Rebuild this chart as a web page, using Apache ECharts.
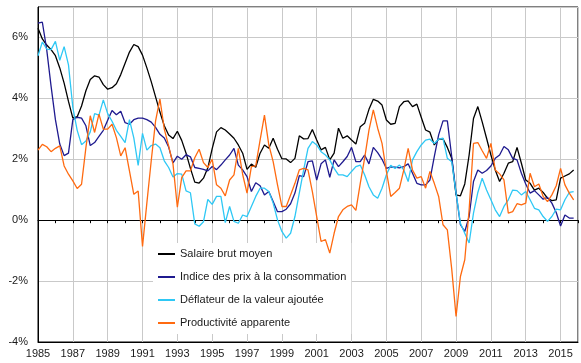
<!DOCTYPE html>
<html>
<head>
<meta charset="utf-8">
<script src="https://cdn.jsdelivr.net/npm/echarts@6/dist/echarts.min.js"></script>
<style>
  html, body { margin: 0; padding: 0; background: #fff; }
  #chart { width: 581px; height: 363px; }
</style>
</head>
<body>
<div id="chart"></div>
<script>
// Glissements annuels trimestriels (%), du 1er trimestre 1985 au 4e trimestre 2015
const firstYear = 1985;

const seriesNames = [
  'Salaire brut moyen',
  'Indice des prix à la consommation',
  'Déflateur de la valeur ajoutée',
  'Productivité apparente'
];

const salaire = [
  6.30, 5.95, 5.75, 5.60, 5.40, 5.00, 4.50, 3.90, 3.35, 3.40,
  3.75, 4.25, 4.62, 4.74, 4.70, 4.45, 4.30, 4.35, 4.48, 4.78,
  5.15, 5.52, 5.77, 5.70, 5.42, 5.00, 4.55, 4.05, 3.55, 3.10,
  2.80, 2.68, 2.92, 2.62, 2.20, 1.70, 1.25, 1.22, 1.38, 1.72,
  2.35, 2.90, 3.04, 2.96, 2.83, 2.69, 2.47, 2.20, 1.67, 1.84,
  1.74, 2.20, 2.47, 2.36, 2.69, 2.33, 2.02, 2.01, 1.89, 2.03,
  2.77, 2.67, 2.68, 2.98, 2.63, 2.31, 2.39, 1.98, 2.20, 3.02,
  2.69, 2.77, 2.63, 2.50, 3.07, 3.18, 3.64, 3.97, 3.91, 3.78,
  3.29, 3.15, 3.18, 3.73, 3.89, 3.92, 3.73, 3.81, 3.38, 2.96,
  2.89, 2.47, 2.66, 2.67, 2.39, 2.03, 0.83, 0.80, 1.19, 2.14,
  3.34, 3.73, 3.23, 2.69, 2.14, 1.65, 1.27, 1.54, 1.87, 1.92,
  2.39, 1.87, 1.32, 1.21, 0.99, 1.05, 0.91, 0.72, 0.64, 0.67,
  1.38, 1.45, 1.52, 1.65
];

const prixConso = [
  6.47, 6.50, 5.60, 4.40, 3.30, 2.50, 2.12, 2.20, 3.30, 3.38,
  3.35, 3.10, 2.45, 2.55, 2.75, 2.95, 3.28, 3.60, 3.46, 3.58,
  3.20, 3.15, 3.30, 3.35, 3.35, 3.30, 3.22, 3.05, 2.82, 2.70,
  2.40, 1.88, 2.10, 2.00, 2.15, 2.08, 1.73, 1.70, 1.67, 1.62,
  1.76, 1.66, 1.81, 1.98, 2.14, 2.36, 1.81, 1.65, 1.43, 0.94,
  1.23, 1.13, 0.83, 0.94, 0.61, 0.28, 0.28, 0.36, 0.54, 0.89,
  1.46, 1.43, 1.92, 1.95, 1.32, 1.85, 1.98, 1.41, 1.98, 1.76,
  1.92, 2.09, 2.39, 1.92, 1.92, 2.14, 1.85, 2.39, 2.22, 2.00,
  1.70, 1.75, 1.74, 1.72, 1.76, 1.85, 1.54, 1.21, 1.16, 1.16,
  1.32, 2.09, 2.80, 3.26, 3.26, 2.09, 0.89, -0.15, -0.37, 0.12,
  1.27, 1.65, 1.54, 1.63, 1.78, 2.03, 2.14, 2.42, 2.31, 2.03,
  1.98, 1.54, 1.19, 0.89, 0.97, 0.83, 0.69, 0.75, 0.56, 0.25,
  -0.19, 0.17, 0.07, 0.07
];

const deflateur = [
  5.40, 5.85, 5.62, 5.60, 5.87, 5.25, 5.70, 5.10, 3.70, 2.95,
  2.48, 2.60, 2.90, 3.50, 3.45, 3.95, 3.50, 3.25, 2.95, 2.75,
  2.55, 3.30, 2.70, 1.80, 2.85, 2.30, 2.45, 2.50, 2.38, 1.95,
  1.73, 1.42, 1.53, 1.51, 0.96, 0.90, -0.12, -0.20, -0.05, 0.68,
  0.52, 0.78, 0.78, -0.08, 0.45, -0.04, -0.10, 0.17, 0.12, 0.45,
  0.78, 1.05, 1.05, 0.94, 0.56, 0.01, -0.37, -0.59, -0.43, 0.12,
  0.89, 1.65, 2.36, 2.58, 2.47, 2.25, 2.14, 1.98, 1.70, 1.49,
  1.49, 1.43, 1.60, 1.76, 1.81, 1.49, 1.10, 0.83, 0.72, 1.05,
  1.49, 1.80, 1.70, 1.81, 1.65, 1.27, 1.98, 2.25, 2.47, 2.63,
  2.66, 2.52, 2.66, 2.69, 2.03, 1.92, 0.89, -0.10, -0.43, -0.75,
  0.23, 0.91, 1.38, 0.99, 0.67, 0.34, 0.12, 0.45, 0.67, 0.99,
  0.97, 0.83, 0.94, 0.67, 0.39, 0.34, 0.12, -0.04, 0.12, 0.36,
  0.34, 0.67, 0.91, 0.94
];

const productivite = [
  2.30, 2.49, 2.41, 2.25, 2.36, 2.44, 1.78, 1.51, 1.29, 1.04,
  1.18, 2.38, 3.43, 2.88, 3.48, 2.99, 2.99, 3.15, 2.71, 2.11,
  2.38, 1.62, 0.85, 0.96, -0.86, 0.57, 1.95, 3.26, 3.98, 2.99,
  2.44, 1.84, 0.43, 1.40, 1.62, 1.62, 2.05, 2.33, 1.89, 1.73,
  2.00, 1.16, 1.05, 0.80, 1.32, 1.49, 2.36, 1.50, 0.89, 1.76,
  1.78, 2.63, 3.45, 2.47, 1.92, 1.16, 0.45, 0.45, 0.83, 1.21,
  1.65, 1.70, 1.65, 0.94, 0.12, -0.70, -0.64, -1.08, -0.43, 0.12,
  0.34, 0.45, 0.50, 0.32, 1.21, 2.03, 2.96, 3.62, 3.02, 2.52,
  1.60, 0.78, 0.91, 1.05, 1.65, 2.36, 1.65, 1.38, 1.43, 1.05,
  1.60, 1.21, 0.78, -0.15, -0.32, -1.60, -3.16, -1.85, -1.30, 0.34,
  2.52, 2.55, 2.28, 2.03, 2.52, 1.65, 1.52, 1.32, 0.23, 0.28,
  0.54, 0.50, 0.56, 1.54, 1.10, 1.19, 0.78, 0.61, 0.83, 1.13,
  1.70, 1.16, 0.89, 0.67
];

const seriesColors = ['#000000', '#1f1a8f', '#2ec8f5', '#ff6a10'];
const yTicks = [-4, -2, 0, 2, 4, 6];

// x position of each quarter, in years since the first year
const quarters = salaire.map((_, q) => q / 4);

function pairs(values) {
  return values.map((v, q) => [quarters[q], v]);
}

const font = 'Liberation Sans, Arial, sans-serif';
const chart = echarts.init(document.getElementById('chart'), null, { renderer: 'canvas' });

chart.setOption({
  animation: false,
  backgroundColor: '#ffffff',
  grid: {
    left: 38, top: 7, right: -6, bottom: 21,
    show: true, borderColor: '#000000', borderWidth: 1, backgroundColor: '#ffffff'
  },
  xAxis: [
    {
      type: 'value', min: 0, max: 31, interval: 2, position: 'bottom',
      axisLine: { onZero: false, lineStyle: { color: '#000000', width: 1 } },
      axisTick: { show: false },
      axisLabel: {
        interval: 0, hideOverlap: false, margin: 6,
        color: '#1a1a1a', fontFamily: font, fontSize: 11,
        formatter: v => (v % 2 === 0 ? String(firstYear + v) : '')
      },
      splitLine: { show: true, lineStyle: { color: '#c9c9c9', width: 1 } }
    },
    {
      type: 'value', min: 0, max: 31, interval: 1, position: 'top',
      axisLine: { onZero: true, lineStyle: { color: '#000000', width: 1 } },
      axisTick: { show: true, inside: true, length: 3, lineStyle: { color: '#000000' } },
      axisLabel: { show: false },
      splitLine: { show: false }
    }
  ],
  yAxis: {
    type: 'value', min: -4, max: 7, interval: 2,
    axisLine: { show: true, onZero: false, lineStyle: { color: '#000000', width: 1 } },
    axisTick: { show: false },
    axisLabel: {
      margin: 10, color: '#1a1a1a', fontFamily: font, fontSize: 11,
      formatter: v => (yTicks.indexOf(v) >= 0 ? v + '%' : '')
    },
    splitLine: { show: true, lineStyle: { color: '#c9c9c9', width: 1 } }
  },
  legend: {
    orient: 'vertical', left: 153, top: 243, z: 1,
    backgroundColor: '#ffffff', padding: [4, 5, 4, 5],
    itemGap: 9, itemWidth: 17, itemHeight: 2, icon: 'rect',
    textStyle: { color: '#1a1a1a', fontFamily: font, fontSize: 11, lineHeight: 14 },
    data: seriesNames
  },
  series: [salaire, prixConso, deflateur, productivite].map((values, k) => ({
    name: seriesNames[k],
    type: 'line',
    xAxisIndex: 0,
    z: 3,
    data: pairs(values),
    showSymbol: false,
    symbol: 'none',
    color: seriesColors[k],
    lineStyle: { color: seriesColors[k], width: 1.3 },
    emphasis: { disabled: true }
  }))
});
</script>
</body>
</html>
